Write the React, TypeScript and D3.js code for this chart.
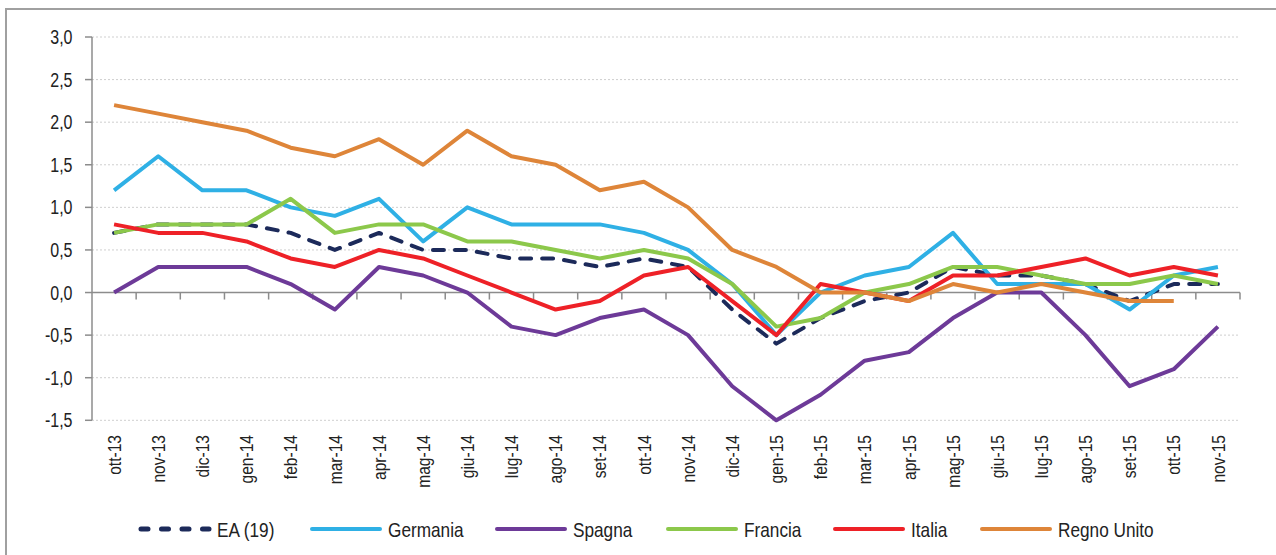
import React from "react";
import * as d3 from "d3";

const categories = ["ott-13","nov-13","dic-13","gen-14","feb-14","mar-14","apr-14","mag-14","giu-14","lug-14","ago-14","set-14","ott-14","nov-14","dic-14","gen-15","feb-15","mar-15","apr-15","mag-15","giu-15","lug-15","ago-15","set-15","ott-15","nov-15"];

const ea19 = [0.7,0.8,0.8,0.8,0.7,0.5,0.7,0.5,0.5,0.4,0.4,0.3,0.4,0.3,-0.2,-0.6,-0.3,-0.1,0.0,0.3,0.2,0.2,0.1,-0.1,0.1,0.1];
const germania = [1.2,1.6,1.2,1.2,1.0,0.9,1.1,0.6,1.0,0.8,0.8,0.8,0.7,0.5,0.1,-0.5,0.0,0.2,0.3,0.7,0.1,0.1,0.1,-0.2,0.2,0.3];
const spagna = [0.0,0.3,0.3,0.3,0.1,-0.2,0.3,0.2,0.0,-0.4,-0.5,-0.3,-0.2,-0.5,-1.1,-1.5,-1.2,-0.8,-0.7,-0.3,0.0,0.0,-0.5,-1.1,-0.9,-0.4];
const francia = [0.7,0.8,0.8,0.8,1.1,0.7,0.8,0.8,0.6,0.6,0.5,0.4,0.5,0.4,0.1,-0.4,-0.3,0.0,0.1,0.3,0.3,0.2,0.1,0.1,0.2,0.1];
const italia = [0.8,0.7,0.7,0.6,0.4,0.3,0.5,0.4,0.2,0.0,-0.2,-0.1,0.2,0.3,-0.1,-0.5,0.1,0.0,-0.1,0.2,0.2,0.3,0.4,0.2,0.3,0.2];
const regnoUnito: (number | null)[] = [2.2,2.1,2.0,1.9,1.7,1.6,1.8,1.5,1.9,1.6,1.5,1.2,1.3,1.0,0.5,0.3,0.0,0.0,-0.1,0.1,0.0,0.1,0.0,-0.1,-0.1,null];

const yTicks = [-1.5,-1.0,-0.5,0.0,0.5,1.0,1.5,2.0,2.5,3.0];

const seriesList = [
  { name: "EA (19)", values: ea19 as (number | null)[], color: "#1c2a5a", dashed: true },
  { name: "Germania", values: germania as (number | null)[], color: "#2fb0e5", dashed: false },
  { name: "Spagna", values: spagna as (number | null)[], color: "#6d3a98", dashed: false },
  { name: "Francia", values: francia as (number | null)[], color: "#8cc84b", dashed: false },
  { name: "Italia", values: italia as (number | null)[], color: "#ee2127", dashed: false },
  { name: "Regno Unito", values: regnoUnito, color: "#de8539", dashed: false },
];

const legendX = [139, 310, 495, 666, 833, 980];

export default function App() {
  const W = 1276, H = 555;
  const left = 92, right = 1240, top = 37, bottom = 420.3;
  const x = d3.scaleBand<string>().domain(categories).range([left, right]);
  const y = d3.scaleLinear().domain([-1.5, 3.0]).range([bottom, top]);
  const cx = (c: string) => (x(c) as number) + x.bandwidth() / 2;
  const line = d3.line<{ c: string; v: number | null }>()
    .defined(d => d.v !== null)
    .x(d => cx(d.c))
    .y(d => y(d.v as number));
  const font = "'Liberation Sans', Arial, sans-serif";
  const fmt = (v: number) => v.toFixed(1).replace(".", ",");
  const y0 = y(0);
  const sx = 0.82;

  return (
    <svg width={W} height={H} style={{ position: "absolute", left: 0, top: 0, background: "#fff" }}>
      <rect x={6} y={9} width={1300} height={700} fill="#fff" stroke="#a0a0a0" strokeWidth={2} />
      {yTicks.filter(t => t !== 0).map(t => (
        <line key={"g" + t} x1={left} x2={right} y1={y(t)} y2={y(t)} stroke="#cfcfcf" strokeWidth={1} strokeDasharray="2 2" />
      ))}
      <line x1={left} x2={left} y1={top} y2={bottom} stroke="#8c8c8c" strokeWidth={1.5} />
      {yTicks.map(t => (
        <g key={"yt" + t}>
          <line x1={left - 7} x2={left} y1={y(t)} y2={y(t)} stroke="#8c8c8c" strokeWidth={1.5} />
          <text transform={`translate(72.5,${y(t)}) scale(${sx},1)`} dy="0.36em" textAnchor="end" fontFamily={font} fontSize={19.5} fill="#222">{fmt(t)}</text>
        </g>
      ))}
      <line x1={left} x2={right} y1={y0} y2={y0} stroke="#8c8c8c" strokeWidth={1.5} />
      {categories.map(c => (
        <line key={"xt" + c} x1={(x(c) as number) + x.bandwidth()} x2={(x(c) as number) + x.bandwidth()} y1={y0} y2={y0 + 7} stroke="#8c8c8c" strokeWidth={1.5} />
      ))}
      {categories.map(c => (
        <text key={"xl" + c} transform={`translate(${cx(c)},${435}) rotate(-90) scale(${sx},1)`} textAnchor="end" dy="0.35em" fontFamily={font} fontSize={19} fill="#222">{c}</text>
      ))}
      {seriesList.map(s => {
        const pts = categories.map((c, i) => ({ c, v: s.values[i] }));
        return (
          <path key={s.name} d={line(pts) || ""} fill="none" stroke={s.color} strokeWidth={4}
            strokeLinejoin="round" strokeLinecap={s.dashed ? "round" : "butt"}
            strokeDasharray={s.dashed ? "11 11" : undefined} />
        );
      })}
      {seriesList.map((s, i) => (
        <g key={"lg" + s.name}>
          <line x1={legendX[i] + 2} x2={legendX[i] + 70} y1={529} y2={529} stroke={s.color} strokeWidth={s.dashed ? 5 : 4}
            strokeLinecap="round" strokeDasharray={s.dashed ? "7 13.5" : undefined} />
          <text transform={`translate(${legendX[i] + 78},529) scale(${sx},1)`} dy="0.36em" fontFamily={font} fontSize={21} fill="#222">{s.name}</text>
        </g>
      ))}
    </svg>
  );
}
